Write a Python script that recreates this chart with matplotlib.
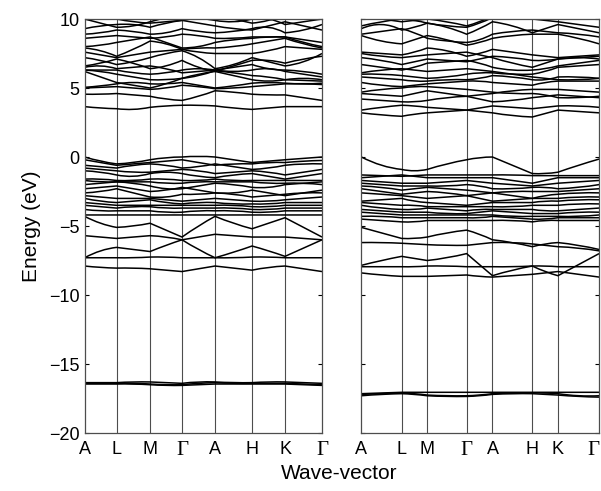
import matplotlib
matplotlib.use("Agg")
import matplotlib.pyplot as plt
from matplotlib.path import Path
from matplotlib.patches import PathPatch

# High-symmetry path (cumulative k-distance) and labels for each structure
kpoints_left = [0.0, 31.9, 65.4, 97.4, 130.4, 167.4, 200.4, 237.4]
kpoints_right = [0.0, 40.4, 66.1, 105.6, 131.6, 171.6, 197.3, 238.6]
klabels = ["A", "L", "M", "Γ", "A", "H", "K", "Γ"]

# Band energies (eV): value at each high-symmetry point and at the middle of each segment
left_conduction = [
    [3.65, 3.55, 3.5, 3.45, 3.6, 3.7, 3.75, 3.75, 3.7, 3.55, 3.45, 3.55, 3.65, 3.65, 3.65],
    [4.55, 4.55, 4.6, 4.5, 4.4, 4.2, 4.1, 4.4, 4.8, 4.7, 4.55, 4.5, 4.5, 4.3, 4.1],
    [5.0, 5.05, 5.1, 5.0, 4.9, 5.0, 5.2, 5.1, 4.95, 5.0, 5.1, 5.2, 5.3, 5.3, 5.25],
    [5.05, 5.15, 5.3, 5.4, 5.3, 5.3, 5.4, 5.2, 5.0, 5.15, 5.35, 5.4, 5.35, 5.3, 5.35],
    [6.2, 5.8, 5.4, 5.2, 5.0, 5.3, 5.7, 6.0, 6.2, 5.9, 5.6, 5.5, 5.6, 5.7, 5.6],
    [6.3, 6.2, 6.0, 5.8, 5.6, 5.6, 5.7, 5.9, 6.25, 6.1, 5.9, 5.8, 5.6, 5.55, 5.5],
    [6.3, 6.3, 6.3, 6.1, 6.0, 6.1, 6.3, 6.4, 6.3, 6.2, 6.3, 6.4, 6.2, 6.0, 5.8],
    [6.5, 6.6, 6.4, 6.5, 6.6, 6.4, 6.1, 6.2, 6.3, 6.5, 6.7, 6.4, 6.3, 6.2, 6.0],
    [6.6, 6.8, 7.1, 6.8, 6.4, 6.6, 7.0, 6.5, 6.2, 6.6, 7.0, 7.0, 6.8, 7.1, 7.3],
    [7.2, 7.0, 6.7, 6.9, 7.2, 7.5, 7.7, 7.2, 6.4, 6.7, 7.2, 6.9, 6.6, 6.9, 7.5],
    [7.6, 7.4, 7.2, 7.4, 7.6, 7.7, 7.8, 7.6, 7.5, 7.5, 7.5, 7.7, 8.0, 7.9, 7.8],
    [7.9, 7.7, 7.3, 7.8, 8.4, 8.2, 7.8, 7.9, 7.9, 8.0, 8.2, 8.4, 8.6, 8.2, 7.9],
    [8.0, 8.1, 8.3, 8.5, 8.7, 8.3, 7.9, 8.0, 8.3, 8.5, 8.6, 8.7, 8.7, 8.3, 8.0],
    [8.6, 8.7, 8.8, 8.7, 8.6, 8.7, 8.9, 8.8, 8.6, 8.6, 8.7, 8.7, 8.7, 8.5, 8.3],
    [8.9, 9.0, 9.2, 9.1, 8.9, 9.0, 9.3, 9.1, 9.0, 9.1, 9.3, 9.4, 9.0, 9.2, 9.6],
    [9.3, 9.5, 9.6, 9.6, 9.4, 9.7, 9.9, 9.7, 9.5, 9.3, 9.2, 9.5, 9.8, 9.5, 9.2],
    [10.0, 9.7, 9.4, 9.5, 9.8, 10.1, 10.4, 10.1, 9.9, 9.8, 10.0, 10.0, 9.6, 9.8, 10.0],
    [10.5, 10.2, 10.0, 9.8, 9.7, 9.8, 9.9, 10.1, 10.3, 10.0, 9.7, 9.9, 10.3, 10.2, 10.0],
]
left_valence = [
    [0.0, -0.3, -0.5, -0.4, -0.2, -0.05, 0.0, 0.05, 0.0, -0.2, -0.4, -0.3, -0.2, -0.1, 0.0],
    [-0.2, -0.4, -0.6, -0.5, -0.4, -0.3, -0.2, -0.4, -0.6, -0.5, -0.5, -0.4, -0.4, -0.3, -0.25],
    [-0.6, -0.7, -0.8, -0.6, -0.5, -0.6, -0.8, -0.7, -0.5, -0.7, -0.9, -0.8, -0.6, -0.5, -0.5],
    [-0.8, -0.9, -1.0, -1.1, -1.1, -1.0, -0.9, -1.0, -1.2, -1.1, -1.0, -1.1, -1.3, -1.1, -0.9],
    [-1.0, -1.1, -1.3, -1.4, -1.2, -1.1, -1.2, -1.4, -1.5, -1.3, -1.2, -1.4, -1.6, -1.4, -1.2],
    [-1.6, -1.6, -1.7, -1.7, -1.6, -1.6, -1.7, -1.7, -1.6, -1.7, -1.7, -1.7, -1.7, -1.7, -1.7],
    [-1.7, -1.8, -1.8, -1.8, -1.8, -1.9, -1.9, -1.8, -1.8, -1.8, -1.8, -1.9, -1.9, -1.9, -2.0],
    [-2.0, -1.9, -1.8, -1.9, -2.1, -2.3, -2.3, -2.1, -1.9, -2.0, -2.2, -2.2, -2.0, -1.9, -1.8],
    [-2.3, -2.2, -2.1, -2.3, -2.5, -2.4, -2.2, -2.4, -2.6, -2.6, -2.4, -2.6, -2.8, -2.6, -2.4],
    [-2.6, -2.5, -2.3, -2.6, -2.9, -2.9, -2.7, -2.7, -2.6, -2.7, -2.9, -2.8, -2.7, -2.6, -2.6],
    [-2.8, -2.9, -3.0, -3.0, -3.0, -3.1, -3.2, -3.1, -3.0, -3.1, -3.2, -3.2, -3.1, -3.0, -2.9],
    [-3.0, -3.2, -3.3, -3.2, -3.1, -3.3, -3.4, -3.3, -3.3, -3.4, -3.4, -3.4, -3.3, -3.3, -3.3],
    [-3.3, -3.4, -3.5, -3.5, -3.5, -3.5, -3.5, -3.5, -3.5, -3.5, -3.6, -3.6, -3.5, -3.5, -3.5],
    [-3.5, -3.6, -3.7, -3.6, -3.6, -3.7, -3.7, -3.7, -3.7, -3.7, -3.8, -3.8, -3.7, -3.7, -3.7],
    [-3.8, -3.9, -3.9, -3.9, -3.9, -4.0, -4.0, -3.9, -3.9, -3.9, -4.0, -4.0, -3.9, -3.9, -3.9],
    [-4.2, -4.2, -4.2, -4.2, -4.2, -4.2, -4.2, -4.2, -4.2, -4.2, -4.2, -4.2, -4.2, -4.2, -4.2],
    [-4.3, -4.8, -5.1, -5.0, -4.8, -5.3, -5.8, -5.0, -4.3, -4.8, -5.2, -4.8, -4.4, -5.1, -5.8],
    [-5.7, -5.8, -5.9, -5.8, -5.7, -5.8, -6.0, -5.8, -5.6, -5.7, -5.8, -5.8, -5.8, -5.9, -6.0],
    [-7.3, -6.8, -6.55, -6.7, -6.85, -6.4, -6.0, -6.7, -7.3, -6.9, -6.45, -6.8, -7.2, -6.6, -6.0],
    [-7.3, -7.3, -7.3, -7.3, -7.25, -7.25, -7.3, -7.3, -7.3, -7.3, -7.25, -7.25, -7.3, -7.3, -7.3],
    [-7.9, -8.0, -8.05, -8.05, -8.1, -8.2, -8.3, -8.1, -7.9, -8.05, -8.2, -8.0, -7.9, -8.1, -8.3],
]
left_semicore = [
    [-16.35, -16.35, -16.35, -16.3, -16.3, -16.35, -16.4, -16.3, -16.3, -16.35, -16.35, -16.3, -16.3, -16.35, -16.4],
    [-16.4, -16.4, -16.4, -16.4, -16.45, -16.5, -16.5, -16.4, -16.35, -16.4, -16.4, -16.4, -16.4, -16.45, -16.5],
    [-16.45, -16.45, -16.45, -16.45, -16.5, -16.55, -16.55, -16.5, -16.45, -16.45, -16.45, -16.45, -16.45, -16.5, -16.55],
]

right_conduction = [
    [3.2, 3.05, 2.95, 3.1, 3.2, 3.3, 3.4, 3.3, 3.2, 3.0, 2.9, 3.15, 3.4, 3.3, 3.2],
    [3.4, 3.6, 3.75, 3.7, 3.6, 3.5, 3.4, 3.55, 3.7, 3.6, 3.5, 3.6, 3.7, 3.7, 3.6],
    [4.2, 4.1, 4.0, 4.0, 4.1, 4.3, 4.4, 4.2, 4.0, 4.1, 4.3, 4.4, 4.5, 4.4, 4.3],
    [4.6, 4.5, 4.4, 4.6, 4.8, 4.6, 4.4, 4.5, 4.6, 4.8, 4.9, 4.9, 4.9, 4.8, 4.7],
    [4.7, 4.9, 5.0, 5.1, 5.1, 5.0, 4.9, 4.8, 4.7, 4.6, 4.6, 4.5, 4.3, 4.3, 4.4],
    [5.4, 5.2, 5.1, 5.2, 5.3, 5.4, 5.5, 5.5, 5.4, 5.3, 5.2, 5.4, 5.5, 5.5, 5.5],
    [5.8, 5.7, 5.6, 5.5, 5.5, 5.6, 5.6, 5.7, 5.9, 5.8, 5.6, 5.6, 5.8, 5.8, 5.7],
    [6.0, 6.0, 5.9, 5.8, 5.7, 5.8, 6.0, 6.1, 6.1, 6.0, 6.0, 6.2, 6.5, 6.6, 6.7],
    [6.1, 6.3, 6.4, 6.3, 6.2, 6.3, 6.4, 6.3, 6.2, 6.0, 5.8, 5.7, 5.6, 5.6, 5.7],
    [6.7, 6.5, 6.3, 6.5, 6.8, 6.9, 7.0, 6.8, 6.5, 6.3, 6.3, 6.4, 6.6, 6.8, 7.0],
    [7.2, 7.0, 6.7, 6.9, 7.1, 7.0, 6.9, 7.1, 7.3, 7.2, 7.0, 7.0, 7.1, 7.2, 7.3],
    [7.5, 7.3, 7.2, 7.3, 7.4, 7.5, 7.6, 7.4, 7.2, 6.8, 6.5, 6.8, 7.1, 7.2, 7.1],
    [7.6, 7.5, 7.4, 7.6, 7.9, 7.7, 7.3, 7.5, 7.8, 7.6, 7.4, 7.3, 7.2, 7.3, 7.4],
    [8.8, 8.4, 8.2, 8.5, 8.8, 8.5, 8.1, 8.3, 8.6, 8.8, 8.9, 8.9, 8.9, 8.6, 8.2],
    [8.9, 9.1, 9.3, 9.0, 8.6, 8.4, 8.3, 8.5, 8.9, 9.1, 9.2, 9.1, 9.0, 8.9, 8.7],
    [9.3, 9.6, 9.2, 9.4, 9.7, 9.4, 8.9, 9.3, 9.8, 9.5, 9.0, 9.3, 9.6, 9.3, 9.0],
    [9.5, 9.8, 10.0, 9.9, 9.7, 9.5, 9.4, 9.7, 10.1, 10.2, 10.0, 9.9, 9.8, 9.6, 9.4],
    [10.2, 10.0, 9.8, 9.9, 10.0, 9.8, 9.5, 9.8, 10.2, 10.3, 10.1, 10.0, 10.0, 10.1, 10.3],
]
right_valence = [
    [0.0, -0.6, -0.9, -1.0, -0.9, -0.5, -0.2, -0.05, 0.0, -0.6, -1.2, -1.2, -1.1, -0.6, -0.15],
    [-1.3, -1.35, -1.4, -1.35, -1.3, -1.3, -1.3, -1.3, -1.3, -1.3, -1.35, -1.35, -1.35, -1.35, -1.35],
    [-1.5, -1.4, -1.3, -1.4, -1.5, -1.5, -1.5, -1.5, -1.5, -1.7, -1.9, -1.7, -1.5, -1.5, -1.5],
    [-1.7, -1.8, -1.9, -1.9, -1.9, -1.8, -1.7, -1.8, -1.9, -2.0, -2.1, -2.0, -1.9, -1.8, -1.7],
    [-1.9, -2.0, -2.1, -2.1, -2.1, -2.1, -2.0, -2.1, -2.3, -2.3, -2.2, -2.2, -2.3, -2.2, -2.0],
    [-2.1, -2.2, -2.4, -2.3, -2.2, -2.3, -2.4, -2.5, -2.6, -2.5, -2.5, -2.5, -2.5, -2.4, -2.3],
    [-2.3, -2.5, -2.7, -2.6, -2.5, -2.6, -2.8, -2.7, -2.6, -2.8, -3.0, -2.8, -2.7, -2.6, -2.6],
    [-2.6, -2.7, -2.8, -2.9, -3.0, -2.9, -2.8, -3.0, -3.2, -3.1, -3.0, -3.0, -3.0, -2.9, -2.9],
    [-3.2, -3.1, -3.0, -3.2, -3.3, -3.4, -3.5, -3.4, -3.3, -3.3, -3.3, -3.2, -3.2, -3.1, -3.1],
    [-3.3, -3.4, -3.5, -3.5, -3.6, -3.6, -3.6, -3.6, -3.6, -3.6, -3.5, -3.5, -3.5, -3.4, -3.4],
    [-3.5, -3.7, -3.8, -3.8, -3.7, -3.8, -3.9, -3.8, -3.8, -3.8, -3.8, -3.9, -3.9, -3.8, -3.7],
    [-3.8, -3.9, -4.0, -4.0, -4.0, -4.1, -4.1, -4.0, -3.9, -4.0, -4.1, -4.1, -4.1, -4.0, -4.0],
    [-4.0, -4.1, -4.2, -4.2, -4.2, -4.2, -4.2, -4.2, -4.2, -4.3, -4.3, -4.3, -4.3, -4.3, -4.2],
    [-4.3, -4.3, -4.4, -4.4, -4.4, -4.4, -4.4, -4.4, -4.3, -4.4, -4.5, -4.5, -4.4, -4.4, -4.4],
    [-4.5, -4.6, -4.7, -4.7, -4.6, -4.6, -4.6, -4.6, -4.6, -4.6, -4.7, -4.6, -4.6, -4.6, -4.6],
    [-5.1, -5.5, -5.9, -5.9, -5.8, -5.5, -5.3, -5.6, -6.0, -6.2, -6.5, -6.3, -6.2, -6.4, -6.7],
    [-6.2, -6.2, -6.25, -6.3, -6.35, -6.4, -6.4, -6.3, -6.2, -6.2, -6.3, -6.4, -6.5, -6.6, -6.8],
    [-7.85, -7.5, -7.2, -7.35, -7.5, -7.3, -7.0, -7.8, -8.6, -8.2, -7.9, -8.3, -8.6, -7.8, -7.0],
    [-7.95, -7.95, -7.95, -7.95, -7.9, -7.9, -7.95, -7.95, -7.95, -7.95, -7.9, -7.9, -7.95, -7.95, -7.95],
    [-8.4, -8.55, -8.65, -8.65, -8.65, -8.6, -8.55, -8.65, -8.7, -8.6, -8.5, -8.4, -8.3, -8.5, -8.7],
]
right_semicore = [
    [-17.15, -17.1, -17.05, -17.05, -17.05, -17.05, -17.05, -17.05, -17.05, -17.05, -17.05, -17.05, -17.05, -17.05, -17.05],
    [-17.2, -17.15, -17.1, -17.15, -17.25, -17.3, -17.3, -17.25, -17.15, -17.1, -17.1, -17.1, -17.15, -17.3, -17.3],
    [-17.3, -17.2, -17.15, -17.2, -17.3, -17.35, -17.35, -17.3, -17.2, -17.15, -17.15, -17.2, -17.25, -17.35, -17.4],
]

energy_ticks = [-20, -15, -10, -5, 0, 5, 10]


def band_path(kpts, energies):
    """Smooth curve through node and mid-segment energies (quadratic Bezier per segment)."""
    verts = [(kpts[0], energies[0])]
    codes = [Path.MOVETO]
    for i in range(len(kpts) - 1):
        k0, k2 = kpts[i], kpts[i + 1]
        e0, em, e2 = energies[2 * i], energies[2 * i + 1], energies[2 * i + 2]
        km = 0.5 * (k0 + k2)
        ctrl = (2 * km - 0.5 * (k0 + k2), 2 * em - 0.5 * (e0 + e2))
        verts += [ctrl, (k2, e2)]
        codes += [Path.CURVE3, Path.CURVE3]
    return Path(verts, codes)


def draw_panel(ax, kpts, groups, show_ylabels):
    for k in kpts[1:-1]:
        ax.axvline(k, color="0.3", lw=0.8, zorder=1)
    for bands in groups:
        for e in bands:
            ax.add_patch(PathPatch(band_path(kpts, e), fill=False,
                                   edgecolor="black", lw=1.1, zorder=2))
    ax.set_xlim(kpts[0], kpts[-1])
    ax.set_ylim(-20, 10)
    ax.set_xticks(kpts)
    ax.set_xticklabels(klabels)
    ax.set_yticks(energy_ticks)
    ax.tick_params(axis="x", length=0, pad=6, labelsize=13)
    ax.tick_params(axis="y", direction="in", length=3, right=True,
                   labelleft=show_ylabels, labelsize=13, width=0.8)
    for lab in ax.get_xticklabels():
        if lab.get_text() == "Γ":
            lab.set_family("Liberation Serif")
            lab.set_fontsize(15)
    for s in ax.spines.values():
        s.set_color("0.3")
        s.set_linewidth(0.9)


plt.rcParams["font.family"] = ["Liberation Sans", "DejaVu Sans"]

fig = plt.figure(figsize=(6.01, 4.91), dpi=100)
ax1 = fig.add_axes([0.1408, 0.1181, 0.395, 0.8432])
ax2 = fig.add_axes([0.6013, 0.1181, 0.3955, 0.8432])

draw_panel(ax1, kpoints_left, [left_conduction, left_valence, left_semicore], True)
draw_panel(ax2, kpoints_right, [right_conduction, right_valence, right_semicore], False)

# keep the final label inside the figure edge
ax2.get_xticklabels()[-1].set_horizontalalignment("right")

ax1.set_ylabel("Energy (eV)", fontsize=15, labelpad=6)
fig.text(0.565, 0.035, "Wave-vector", ha="center", va="center", fontsize=15)

fig.savefig("out.png", dpi=100)
